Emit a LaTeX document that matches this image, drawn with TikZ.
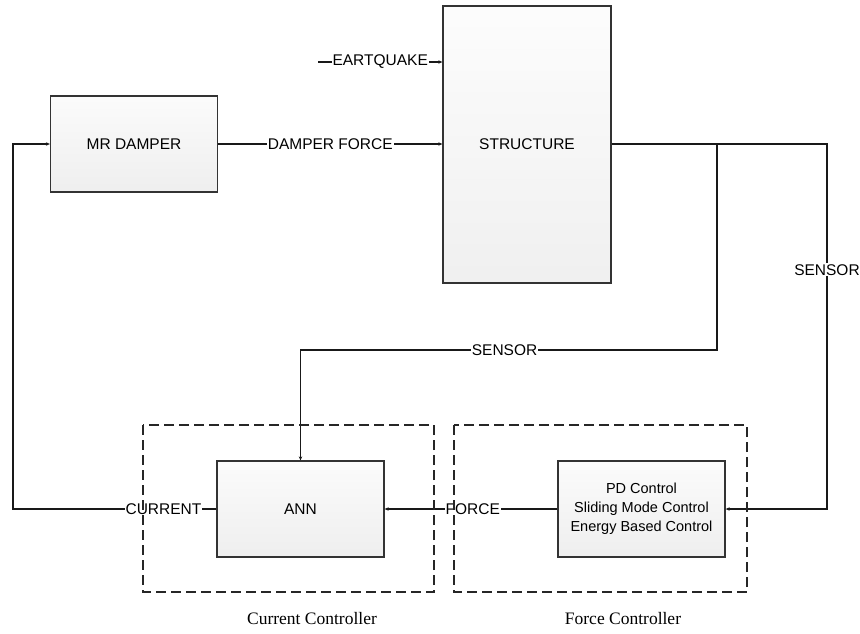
\documentclass[tikz,border=0pt]{standalone}
\usepackage{fontspec}
\setmainfont{Liberation Sans}
\newfontfamily\capfont{Liberation Serif}
\usetikzlibrary{arrows.meta}
\begin{document}
\begin{tikzpicture}[x=1pt,y=-1pt,
  blockbox/.style={draw=black!80,line width=1.3pt,top color=gray!3,bottom color=gray!13,
    minimum width=167pt,minimum height=96pt,inner sep=0pt,font=\fontsize{15.5}{18}\selectfont,align=center},
  conn/.style={line width=1.3pt,draw=black!90},
  arr/.style={conn,-{Stealth[length=4pt,width=3.5pt]}},
  lbl/.style={fill=white,inner sep=1pt,font=\fontsize{15.5}{18}\selectfont},
  groupbox/.style={draw=black!85,line width=1.1pt,dash pattern=on 10pt off 5pt},
  caption/.style={font=\capfont\fontsize{17.5}{20}\selectfont}]
\useasboundingbox (0,0) rectangle (860,633);
\fill[white] (0,0) rectangle (860,633);

% blocks
\node[blockbox] (mr) at (134,144) {MR DAMPER};
\node[blockbox,minimum width=168pt,minimum height=277pt,top color=gray!2,bottom color=gray!12] (st) at (527,144.5) {STRUCTURE};
\node[blockbox] (ann) at (300.5,509) {ANN};
\node[blockbox,font=\fontsize{14.5}{19}\selectfont] (pd) at (641.5,509) {PD Control\\Sliding Mode Control\\Energy Based Control};

% junctions
\coordinate (eq) at (318,62);
\coordinate (outR) at (827,144);
\coordinate (brT) at (717,144);
\coordinate (brB) at (717,350);
\coordinate (cL) at (13,509);
\coordinate (cT) at (13,144);

% connectors
\draw[arr] (eq) -- node[lbl]{EARTQUAKE} (eq -| st.west);
\draw[arr] (mr.east) -- node[lbl]{DAMPER FORCE} (mr.east -| st.west);
\draw[arr] (st.east |- outR) -- (outR) -- node[lbl,pos=0.345]{SENSOR} (outR |- pd.east) -- (pd.east);
\draw[arr] (brT) -- (brB) -- node[lbl,pos=0.51]{SENSOR} (brB -| ann.north) -- (ann.north);
\draw[arr] (pd.west) -- node[lbl,pos=0.49]{FORCE} (ann.east);
\draw[arr] (ann.west) -- node[lbl,pos=0.26]{CURRENT} (cL) -- (cT) -- (mr.west);

% controller groups
\draw[groupbox] (143,425) rectangle (434,592);
\draw[groupbox] (454,425) rectangle (747,592);
\node[caption] (capcur) at (312,619) {Current Controller};
\node[caption] (capfor) at (623,619) {Force Controller};
\end{tikzpicture}
\end{document}
